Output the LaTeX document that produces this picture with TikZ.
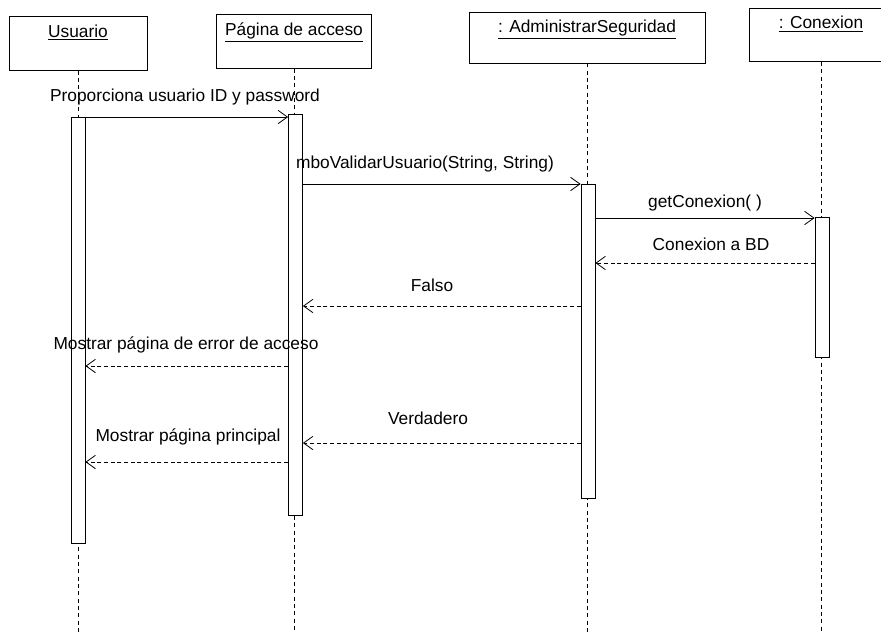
\documentclass[tikz,border=0pt]{standalone}
\usepackage{fontspec}
\setmainfont{Liberation Sans}
\usepackage{tikz}
\usetikzlibrary{arrows.meta,positioning,calc}

\begin{document}
\begin{tikzpicture}[x=0.75pt, y=-0.75pt,
        objeto/.style={draw, line width=0.6pt, minimum height=40pt, inner sep=0pt},
        objname/.style={anchor=north, yshift=-5pt, inner sep=1pt, font=\fontsize{13}{15}\selectfont},
        barra/.style={draw, fill=white, line width=0.6pt, minimum width=10.5pt, inner sep=0pt, anchor=north},
        vida/.style={line width=0.6pt, dash pattern=on 3pt off 2.5pt},
        msg/.style={font=\fontsize{13}{15}\selectfont, inner sep=1pt},
        llamada/.style={line width=0.6pt, -{Straight Barb[length=7pt, width=10pt]}},
        retorno/.style={line width=0.6pt, dash pattern=on 3pt off 2pt, -{Straight Barb[length=7pt, width=10pt]}}
    ]
    \fill[white] (0,0) rectangle (881,632);
    \useasboundingbox (0,0) rectangle (881,632);
    % Objetos
    \node[objeto, minimum width=103.5pt, label={[objname]north:\underline{Usuario}}] (usr) at (78,43.5) {};
    \node[objeto, minimum width=116.25pt, label={[objname]north:\underline{Página de acceso}}] (pag) at (294,41.5) {};
    \node[objeto, minimum width=177pt, minimum height=38.25pt, label={[objname]north:\underline{: AdministrarSeguridad}}] (adm) at (587,37.5) {};
    \node[objeto, minimum width=108pt, label={[objname]north:\underline{: Conexion}}] (con) at (821,35) {};
    % Lineas de vida
    \draw[vida] (usr.south) -- (usr.south |- 0,632);
    \draw[vida] (pag.south) -- (pag.south |- 0,632);
    \draw[vida] (adm.south) -- (adm.south |- 0,632);
    \draw[vida] (con.south) -- (con.south |- 0,632);
    % Activaciones
    \node[barra, minimum height=319.5pt] (usrbar) at (78,117) {};
    \node[barra, minimum height=300.75pt] (pagbar) at (295.5,114) {};
    \node[barra, minimum height=235.5pt] (admbar) at (588,184) {};
    \node[barra, minimum height=105pt] (conbar) at (822,217) {};
    % Mensajes
    \node[msg] (t1) at (185,97) {Proporciona usuario ID y password};
    \draw[llamada] (usrbar.east |- 0,117) -- (pagbar.west |- 0,117);
    \node[msg] (t2) at (425,164) {mboValidarUsuario(String, String)};
    \draw[llamada] (pagbar.east |- 0,184) -- (admbar.west |- 0,184);
    \node[msg] (t3) at (705,203) {getConexion( )};
    \draw[llamada] (admbar.east |- 0,218) -- (conbar.west |- 0,218);
    \node[msg] (t4) at (711,244) {Conexion a BD};
    \draw[retorno] (conbar.west |- 0,263) -- (admbar.east |- 0,263);
    \node[msg] (t5) at (432,285) {Falso};
    \draw[retorno] (admbar.west |- 0,306) -- (pagbar.east |- 0,306);
    \node[msg] (t6) at (186,345) {Mostrar página de error de acceso};
    \draw[retorno] (pagbar.west |- 0,366) -- (usrbar.east |- 0,366);
    \node[msg] (t7) at (428,418) {Verdadero};
    \draw[retorno] (admbar.west |- 0,443) -- (pagbar.east |- 0,443);
    \node[msg] (t8) at (188,437) {Mostrar página principal};
    \draw[retorno] (pagbar.west |- 0,462) -- (usrbar.east |- 0,462);
\end{tikzpicture}
\end{document}
